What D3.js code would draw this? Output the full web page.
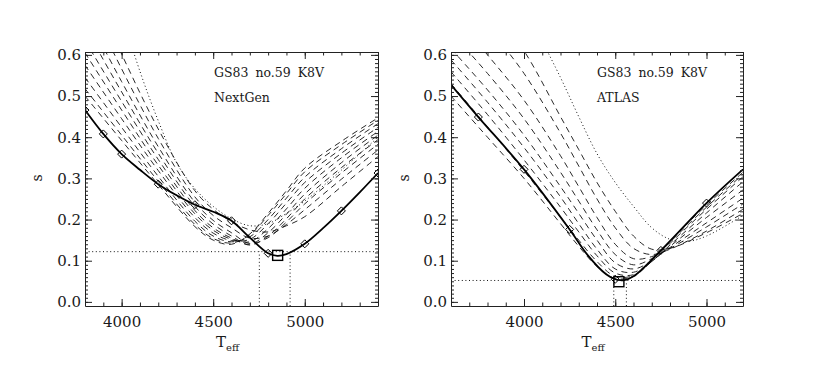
<!DOCTYPE html>
<html>
<head>
<meta charset="utf-8">
<script src="https://cdn.jsdelivr.net/npm/d3@7"></script>
<style>
  html, body { margin: 0; padding: 0; background: #fff; }
  svg { display: block; }
  text { font-family: "DejaVu Serif", serif; fill: #1a1a1a; }
</style>
</head>
<body>
<svg id="chart" width="826" height="380"></svg>
<script>
// ---------------- DATA ----------------
const Y_TICKS = [0.0, 0.1, 0.2, 0.3, 0.4, 0.5, 0.6];
const X_TICKS = [4000, 4500, 5000];
const TITLE = "GS83 no.59 K8V";

// NextGen panel
const NG_T = [3800, 4000, 4200, 4400, 4500, 4600, 4700, 4800, 4900, 5000, 5200, 5400];
const NG_DASHED = [
  [0.500, 0.392, 0.285, 0.183, 0.150, 0.140, 0.165, 0.215, 0.270, 0.325, 0.390, 0.447],
  [0.518, 0.405, 0.293, 0.188, 0.154, 0.143, 0.163, 0.210, 0.263, 0.316, 0.382, 0.441],
  [0.545, 0.424, 0.305, 0.196, 0.160, 0.146, 0.158, 0.200, 0.252, 0.303, 0.372, 0.433],
  [0.575, 0.445, 0.319, 0.205, 0.167, 0.149, 0.152, 0.190, 0.240, 0.290, 0.361, 0.424],
  [0.605, 0.466, 0.332, 0.214, 0.174, 0.152, 0.146, 0.178, 0.226, 0.276, 0.350, 0.414],
  [0.635, 0.487, 0.346, 0.222, 0.180, 0.155, 0.140, 0.168, 0.213, 0.262, 0.338, 0.405],
  [0.668, 0.510, 0.361, 0.232, 0.189, 0.160, 0.138, 0.160, 0.202, 0.250, 0.326, 0.394],
  [0.704, 0.535, 0.377, 0.242, 0.198, 0.168, 0.142, 0.156, 0.194, 0.238, 0.313, 0.383],
  [0.749, 0.566, 0.397, 0.255, 0.210, 0.180, 0.155, 0.160, 0.188, 0.224, 0.298, 0.369],
  [0.800, 0.602, 0.420, 0.270, 0.225, 0.195, 0.175, 0.170, 0.185, 0.207, 0.280, 0.353]
];
const NG_DOT_T = [4000, 4100, 4200, 4300, 4400, 4500, 4600, 4700, 4800, 4900, 5000, 5200, 5400];
const NG_DOT   = [0.700, 0.560, 0.440, 0.338, 0.275, 0.232, 0.202, 0.185, 0.190, 0.215, 0.245, 0.320, 0.400];
const NG_SOLID_T = [3800, 3900, 4000, 4100, 4200, 4300, 4400, 4500, 4600, 4700, 4800, 4850, 4900, 5000, 5100, 5200, 5300, 5400];
const NG_SOLID   = [0.466, 0.408, 0.359, 0.321, 0.286, 0.259, 0.236, 0.219, 0.197, 0.156, 0.118, 0.112, 0.116, 0.141, 0.179, 0.221, 0.266, 0.313];
const NG_MARK_T = [3800, 3900, 4000, 4200, 4400, 4600, 4800, 5000, 5200, 5400];
const NG_BEST = [4852, 0.113];
const NG_LEVEL = 0.122;
const NG_RANGE = [4752, 4920];

// ATLAS panel
const AT_T = [3600, 3800, 4000, 4200, 4300, 4400, 4500, 4600, 4700, 4800, 5000, 5200];
const AT_DASHED = [
  [0.500, 0.400, 0.300, 0.190, 0.135, 0.086, 0.057, 0.062, 0.100, 0.148, 0.235, 0.315],
  [0.530, 0.425, 0.318, 0.206, 0.150, 0.098, 0.062, 0.064, 0.100, 0.145, 0.230, 0.310],
  [0.559, 0.455, 0.345, 0.230, 0.170, 0.112, 0.070, 0.066, 0.098, 0.142, 0.225, 0.304],
  [0.588, 0.485, 0.375, 0.255, 0.190, 0.128, 0.080, 0.072, 0.098, 0.138, 0.216, 0.292],
  [0.615, 0.515, 0.405, 0.280, 0.215, 0.150, 0.095, 0.080, 0.100, 0.135, 0.205, 0.272],
  [0.655, 0.555, 0.445, 0.315, 0.245, 0.175, 0.115, 0.090, 0.105, 0.132, 0.192, 0.252],
  [0.705, 0.600, 0.490, 0.355, 0.280, 0.205, 0.140, 0.105, 0.110, 0.130, 0.182, 0.238],
  [0.780, 0.670, 0.555, 0.410, 0.330, 0.250, 0.180, 0.130, 0.115, 0.128, 0.172, 0.225],
  [0.850, 0.730, 0.610, 0.450, 0.370, 0.290, 0.220, 0.160, 0.128, 0.130, 0.168, 0.215]
];
const AT_DOT_T = [4000, 4200, 4300, 4400, 4500, 4600, 4700, 4800, 4900, 5000, 5200];
const AT_DOT   = [0.720, 0.545, 0.450, 0.360, 0.290, 0.232, 0.180, 0.152, 0.147, 0.160, 0.210];
const AT_SOLID_T = [3600, 3750, 4000, 4250, 4350, 4450, 4500, 4550, 4600, 4750, 5000, 5200];
const AT_SOLID   = [0.527, 0.449, 0.322, 0.176, 0.113, 0.067, 0.055, 0.053, 0.062, 0.125, 0.240, 0.322];
const AT_MARK_T = [3750, 4000, 4250, 4500, 4750, 5000];
const AT_BEST = [4520, 0.049];
const AT_LEVEL = 0.052;
const AT_RANGE = [4492, 4561];

// ---------------- DRAW ----------------
const svg = d3.select("#chart");
svg.append("rect").attr("width", 826).attr("height", 380).attr("fill", "#fff");

function panel(opt) {
  const x = d3.scaleLinear().domain(opt.xdom).range(opt.xr);
  const y = d3.scaleLinear().domain([-0.01, 0.607]).range([306, 52]);
  const g = svg.append("g");
  const clipId = "clip" + opt.id;
  g.append("clipPath").attr("id", clipId).append("rect")
    .attr("x", opt.xr[0]).attr("y", 52)
    .attr("width", opt.xr[1] - opt.xr[0]).attr("height", 254);
  const plot = g.append("g").attr("clip-path", `url(#${clipId})`);

  const line = d3.line().x(d => x(d[0])).y(d => y(d[1])).curve(d3.curveCatmullRom.alpha(0.5));
  const zip = (ts, vs) => ts.map((t, i) => [t, vs[i]]);

  // dashed model curves
  opt.dashed.forEach(vals => {
    plot.append("path").attr("d", line(zip(opt.T, vals)))
      .attr("fill", "none").attr("stroke", "#111").attr("stroke-width", 0.9)
      .attr("stroke-dasharray", "6,4.5");
  });
  // dotted curve
  plot.append("path").attr("d", line(zip(opt.dotT, opt.dot)))
    .attr("fill", "none").attr("stroke", "#111").attr("stroke-width", 1)
    .attr("stroke-dasharray", "1,2.6");
  // crosshair
  const [x0, x1] = x.range();
  plot.append("line").attr("x1", x0).attr("x2", x1)
    .attr("y1", y(opt.level)).attr("y2", y(opt.level))
    .attr("stroke", "#111").attr("stroke-width", 1).attr("stroke-dasharray", "1,2.6");
  opt.range.forEach(t => {
    plot.append("line").attr("x1", x(t)).attr("x2", x(t))
      .attr("y1", 306).attr("y2", y(opt.level))
      .attr("stroke", "#111").attr("stroke-width", 1).attr("stroke-dasharray", "1,2.6");
  });
  // solid best curve
  const solid = zip(opt.solidT, opt.solid);
  plot.append("path").attr("d", line(solid))
    .attr("fill", "none").attr("stroke", "#000").attr("stroke-width", 1.8);
  // diamonds
  opt.markT.forEach(t => {
    const v = opt.solid[opt.solidT.indexOf(t)];
    const cx = x(t), cy = y(v);
    plot.append("path")
      .attr("d", `M${cx},${cy - 4}L${cx + 4},${cy}L${cx},${cy + 4}L${cx - 4},${cy}Z`)
      .attr("fill", "none").attr("stroke", "#000").attr("stroke-width", 1);
  });
  // best-fit square
  plot.append("rect")
    .attr("x", x(opt.best[0]) - 5).attr("y", y(opt.best[1]) - 5)
    .attr("width", 10).attr("height", 10)
    .attr("fill", "none").attr("stroke", "#000").attr("stroke-width", 1.4);

  // axes
  const minorX = d3.range(opt.xdom[0], opt.xdom[1] + 1, 100);
  const minorY = d3.range(0, 61).map(i => i / 100);
  const style = sel => {
    sel.selectAll("path.domain").attr("stroke", "#222").attr("stroke-width", 1);
    sel.selectAll(".tick line").attr("stroke", "#222").attr("stroke-width", 1);
    sel.selectAll("text").attr("font-family", "DejaVu Serif").attr("font-size", 15).attr("fill", "#1a1a1a");
  };
  const noDomain = sel => sel.selectAll("path.domain").remove();

  g.append("g").attr("transform", "translate(0,306)")
    .call(d3.axisBottom(x).tickValues(minorX).tickSize(-3.5).tickFormat("")).call(noDomain).call(style);
  g.append("g").attr("transform", "translate(0,52)")
    .call(d3.axisTop(x).tickValues(minorX).tickSize(-3.5).tickFormat("")).call(noDomain).call(style);
  g.append("g").attr("transform", `translate(${x0},0)`)
    .call(d3.axisLeft(y).tickValues(minorY).tickSize(-3).tickFormat("")).call(noDomain).call(style);
  g.append("g").attr("transform", `translate(${x1},0)`)
    .call(d3.axisRight(y).tickValues(minorY).tickSize(-3).tickFormat("")).call(noDomain).call(style);

  g.append("g").attr("transform", "translate(0,306)")
    .call(d3.axisBottom(x).tickValues(X_TICKS).tickSize(-7).tickSizeOuter(0).tickPadding(10).tickFormat(d3.format("d"))).call(style);
  g.append("g").attr("transform", "translate(0,52)")
    .call(d3.axisTop(x).tickValues(X_TICKS).tickSize(-7).tickSizeOuter(0).tickFormat("")).call(style);
  g.append("g").attr("transform", `translate(${x0},0)`)
    .call(d3.axisLeft(y).tickValues(Y_TICKS).tickSize(-7).tickSizeOuter(0).tickPadding(4).tickFormat(d3.format(".1f"))).call(style);
  g.append("g").attr("transform", `translate(${x1},0)`)
    .call(d3.axisRight(y).tickValues(Y_TICKS).tickSize(-7).tickSizeOuter(0).tickFormat("")).call(style);

  // labels
  const xc = (x0 + x1) / 2;
  const tl = g.append("text").attr("x", xc - 4).attr("y", 347).attr("text-anchor", "middle")
    .attr("font-size", 15);
  tl.append("tspan").text("T");
  tl.append("tspan").attr("font-size", 10).attr("dy", 4).text("eff");

  g.append("text").attr("transform", `translate(${opt.sx},178) rotate(-90)`)
    .attr("text-anchor", "middle").attr("font-size", 14).text("s");

  g.append("text").attr("x", opt.tx).attr("y", 77).attr("font-size", 12.5)
    .attr("word-spacing", 3).text(TITLE);
  g.append("text").attr("x", opt.tx).attr("y", 102).attr("font-size", 12.5).text(opt.model);
}

panel({ id: "ng", xdom: [3800, 5400], xr: [85, 378], T: NG_T, dashed: NG_DASHED,
  dotT: NG_DOT_T, dot: NG_DOT, solidT: NG_SOLID_T, solid: NG_SOLID, markT: NG_MARK_T,
  best: NG_BEST, level: NG_LEVEL, range: NG_RANGE, sx: 42, tx: 214, model: "NextGen" });
panel({ id: "at", xdom: [3600, 5200], xr: [451, 743], T: AT_T, dashed: AT_DASHED,
  dotT: AT_DOT_T, dot: AT_DOT, solidT: AT_SOLID_T, solid: AT_SOLID, markT: AT_MARK_T,
  best: AT_BEST, level: AT_LEVEL, range: AT_RANGE, sx: 409, tx: 597, model: "ATLAS" });
</script>
</body>
</html>
